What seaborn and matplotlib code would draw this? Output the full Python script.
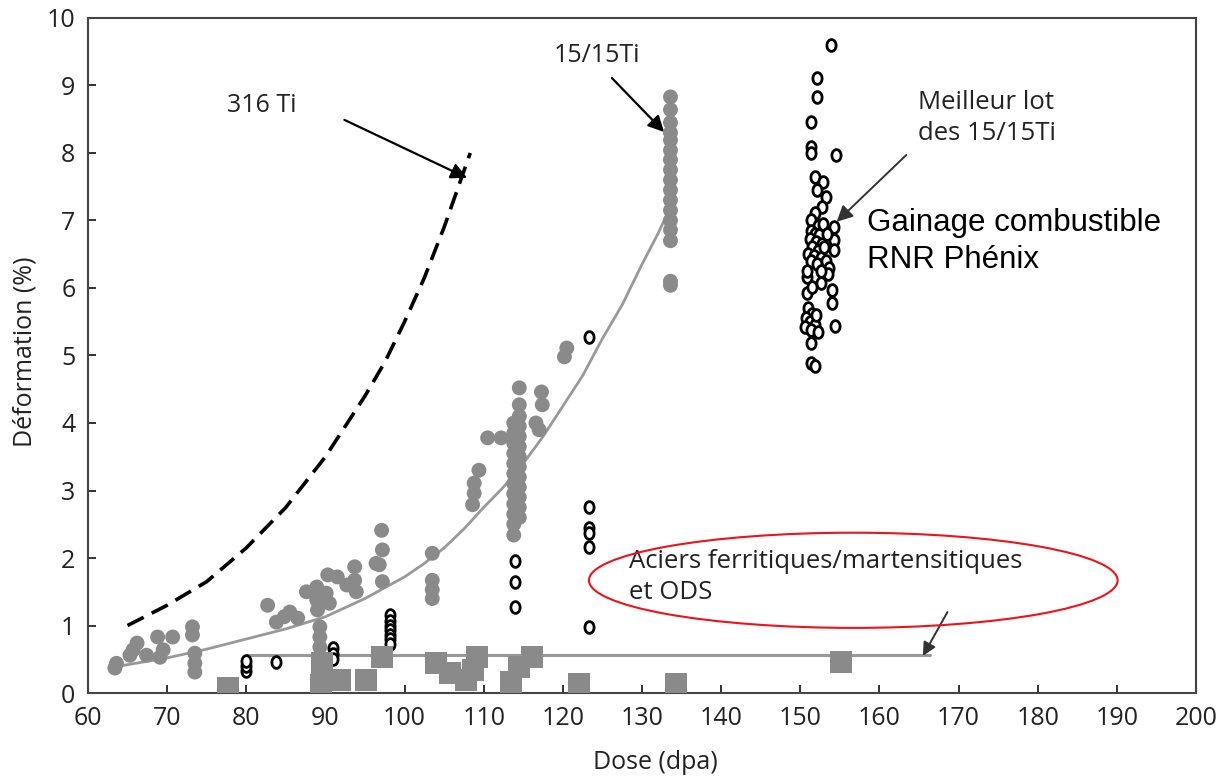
import numpy as np
import pandas as pd
import matplotlib
matplotlib.use("Agg")
import matplotlib.pyplot as plt
import seaborn as sns
from matplotlib.markers import MarkerStyle
from matplotlib.transforms import Affine2D
from matplotlib.patches import Ellipse

# ---------------- data ----------------
# 316 Ti (dashed curve)
ti316_x = [65, 70, 75, 80, 85, 90, 95, 97.5, 100, 102.5, 105, 108.3]
ti316_y = [1.0, 1.3, 1.65, 2.15, 2.75, 3.5, 4.4, 4.9, 5.5, 6.15, 6.9, 8.0]

# 15/15Ti trend curve
trend_x = [63, 65, 70, 75, 80, 85, 90, 95, 100, 102.5, 105, 107.5, 110, 112.5,
           115, 117.5, 120, 122.5, 125, 127.5, 130, 132, 134]
trend_y = [0.38, 0.42, 0.52, 0.65, 0.8, 0.95, 1.13, 1.4, 1.72, 1.92, 2.15, 2.43,
           2.75, 3.05, 3.4, 3.8, 4.25, 4.7, 5.25, 5.75, 6.35, 6.8, 7.3]

# 15/15Ti measured points (grey dots)
ss_x = [63.6, 63.4, 65.7, 66.2, 65.3, 67.4, 68.8, 69.5, 70.7, 69.1,
        73.2, 73.2, 73.5, 73.5, 73.5,
        82.7, 83.8, 84.8, 85.5, 86.5, 87.6, 88.9, 88.9, 89.0, 89.3, 89.3, 89.3,
        90.1, 90.3, 90.5, 91.5, 92.7, 93.7, 93.7, 93.9, 96.8, 97.2,
        97.1, 97.2, 96.4, 103.5, 103.5, 103.5, 103.5,
        108.6, 108.8, 108.8, 109.4, 110.5, 112.2,
        113.8, 113.8, 113.8, 113.8, 113.8, 113.8, 113.8, 113.8, 113.8, 113.8, 113.8, 113.8,
        114.5, 114.5, 114.5, 114.5, 114.5, 114.5, 114.5, 114.5, 114.5, 114.5, 114.5, 114.5, 114.5,
        117.3, 117.4, 116.6, 117.0, 120.2, 120.5,
        133.6, 133.6, 133.6, 133.6, 133.6, 133.6, 133.6, 133.6, 133.6,
        133.6, 133.6, 133.6, 133.6, 133.6, 133.6, 133.6, 133.6]
ss_y = [0.44, 0.37, 0.64, 0.74, 0.56, 0.56, 0.83, 0.64, 0.83, 0.53,
        0.98, 0.86, 0.59, 0.44, 0.31,
        1.30, 1.05, 1.13, 1.20, 1.11, 1.50, 1.57, 1.38, 1.23, 0.98, 0.83, 0.68,
        1.48, 1.75, 1.33, 1.72, 1.60, 1.87, 1.67, 1.50, 1.90, 1.65,
        2.41, 2.12, 1.92, 2.07, 1.67, 1.53, 1.40,
        2.79, 2.96, 3.11, 3.30, 3.78, 3.78,
        4.00, 3.85, 3.70, 3.55, 3.40, 3.25, 3.10, 2.95, 2.80, 2.65, 2.50, 2.34,
        4.52, 4.27, 4.10, 3.95, 3.80, 3.65, 3.50, 3.35, 3.20, 3.05, 2.90, 2.75, 2.60,
        4.46, 4.27, 4.00, 3.90, 4.98, 5.11,
        8.83, 8.64, 8.45, 8.30, 8.19, 8.04, 7.90, 7.75, 7.60,
        7.45, 7.30, 7.15, 7.00, 6.86, 6.70, 6.10, 6.04]

# Open markers (best batch, incl. Phénix cladding)
best_x = [80, 80, 80, 83.7, 90.9, 91.0, 91.0,
          98.1, 98.1, 98.1, 98.1, 98.1, 98.1, 98.1,
          113.9, 113.9, 113.9,
          123.3, 123.3, 123.3, 123.3, 123.3, 123.3,
          153.9, 152.1, 152.1, 151.4, 151.4, 151.4, 154.5, 151.9, 152.9, 152.1,
          153.2, 152.7, 151.9, 151.4, 152.3, 151.3, 151.8, 152.4, 151.2, 152.0,
          152.8, 151.5, 152.2, 151.0, 151.7, 152.6, 151.3, 152.1, 153.0, 153.2,
          154.2, 154.2, 154.2, 153.6, 150.8, 152.6, 154.0, 150.8, 154.0, 151.0,
          151.5, 150.7, 151.2, 151.8, 150.6, 151.4, 152.0, 152.2, 154.4, 151.4,
          151.4, 151.8, 153.5, 152.9, 153.4, 150.9, 152.6, 151.5]
best_y = [0.33, 0.40, 0.47, 0.46, 0.66, 0.58, 0.50,
          1.15, 1.07, 1.00, 0.93, 0.86, 0.80, 0.73,
          1.96, 1.64, 1.27,
          5.28, 2.76, 2.44, 2.37, 2.16, 0.98,
          9.60, 9.11, 8.83, 8.46, 8.09, 8.00, 7.97, 7.64, 7.57, 7.45,
          7.35, 7.20, 7.11, 7.00, 6.92, 6.85, 6.80, 6.78, 6.72, 6.68,
          6.65, 6.60, 6.55, 6.50, 6.47, 6.45, 6.40, 6.36, 6.60, 6.40,
          6.90, 6.71, 6.56, 6.30, 6.16, 6.07, 5.97, 5.92, 5.78, 5.70,
          5.62, 5.55, 5.50, 5.45, 5.42, 5.38, 5.60, 5.35, 5.43, 5.18,
          4.89, 4.85, 6.20, 6.95, 6.80, 6.25, 6.25, 6.02]

# Ferritic/martensitic & ODS steels (grey squares) and their level
fm_x = [77.7, 89.5, 89.6, 91.8, 95.1, 97.1, 104.0, 105.7, 107.8, 109.2, 108.6,
        113.5, 114.5, 116.1, 122.0, 134.3, 155.1]
fm_y = [0.08, 0.12, 0.45, 0.20, 0.20, 0.53, 0.44, 0.30, 0.20, 0.53, 0.34,
        0.17, 0.39, 0.53, 0.13, 0.13, 0.46]
fm_level_x = [80, 166.4]
fm_level_y = [0.57, 0.57]

x_ticks = list(range(60, 201, 10))
y_ticks = list(range(0, 11))

# ---------------- plot ----------------
sns.set_theme(style="white")
plt.rcParams['font.family'] = ['Open Sans', 'DejaVu Sans']

fig = plt.figure(figsize=(12.22, 7.8), dpi=100)
ax = fig.add_axes([0.072, 0.1115, 0.9067, 0.8655])

grey = "#8a8a8a"
txt = "#222222"
FS = 18

sns.lineplot(x=fm_level_x, y=fm_level_y, ax=ax, color="#999999", lw=2.2,
             zorder=1, estimator=None, sort=False)
sns.lineplot(x=trend_x, y=trend_y, ax=ax, color="#999999", lw=2.0,
             zorder=2, estimator=None, sort=False)
sns.lineplot(x=ti316_x, y=ti316_y, ax=ax, color="black", lw=2.6,
             zorder=3, estimator=None, sort=False)
ax.lines[-1].set_linestyle((0, (5, 2.5)))

sns.scatterplot(x=ss_x, y=ss_y, ax=ax, color=grey, s=115, edgecolor="none",
                zorder=4)
oval = MarkerStyle("o", transform=Affine2D().scale(0.78, 1.0))
sns.scatterplot(x=best_x, y=best_y, ax=ax, marker=oval, s=72,
                facecolor="white", edgecolor="black", linewidth=2.0, zorder=5)
sns.scatterplot(x=fm_x, y=fm_y, ax=ax, marker="s", color=grey, s=250,
                edgecolor="none", zorder=6)

ax.set_xlim(60, 200)
ax.set_ylim(0, 10)
ax.set_xticks(x_ticks)
ax.set_yticks(y_ticks)
ax.tick_params(axis="both", direction="in", length=6, width=1.3,
               labelsize=FS, colors=txt, pad=9,
               bottom=True, left=True, top=False, right=False)
for side, sp in ax.spines.items():
    sp.set_color("#444444")
    sp.set_linewidth(1.5)
    sp.set_visible(True)

ax.set_xlabel("Dose (dpa)", fontsize=FS, color=txt)
ax.set_ylabel("Déformation (%)", fontsize=FS, color=txt)
ax.xaxis.set_label_coords(0.512, -0.084)
ax.yaxis.set_label_coords(-0.046, 0.505)

# annotations
arrow = dict(arrowstyle="-|>", color="black", lw=1.6, mutation_scale=24,
             shrinkA=0, shrinkB=0)
ax.annotate("", xy=(107.9, 7.63), xytext=(92.4, 8.49), arrowprops=arrow)
ax.text(81.9, 8.71, "316 Ti", fontsize=FS, ha="center", va="center",
        fontweight="medium", color=txt)

ax.annotate("", xy=(132.8, 8.31), xytext=(126.2, 9.11), arrowprops=arrow)
ax.text(124.3, 9.45, "15/15Ti", fontsize=FS, ha="center", va="center",
        fontweight="medium", color=txt)

ax.annotate("", xy=(154.6, 6.98), xytext=(163.4, 7.97),
            arrowprops=dict(arrowstyle="-|>", color="#333333", lw=1.4,
                            mutation_scale=24, shrinkA=0, shrinkB=0))
ax.text(164.9, 8.52, "Meilleur lot\ndes 15/15Ti", fontsize=18.5, ha="left",
        va="center", color=txt, linespacing=1.32)

ax.text(158.4, 6.69, "Gainage combustible\nRNR Phénix", fontsize=22.5,
        ha="left", va="center", family=["Liberation Sans", "DejaVu Sans"],
        color="black", linespacing=1.28)

ax.add_patch(Ellipse((156.7, 1.67), 66.8, 1.41, fill=False, edgecolor="#e8141e",
                     lw=1.5, zorder=7))
ax.text(128.3, 1.72, "Aciers ferritiques/martensitiques\net ODS", fontsize=18.5,
        ha="left", va="center", color=txt, linespacing=1.3)
ax.annotate("", xy=(165.5, 0.55), xytext=(168.6, 1.2),
            arrowprops=dict(arrowstyle="-|>", color="#333333", lw=1.4,
                            mutation_scale=20, shrinkA=0, shrinkB=0))

fig.savefig("out.png", dpi=100)
